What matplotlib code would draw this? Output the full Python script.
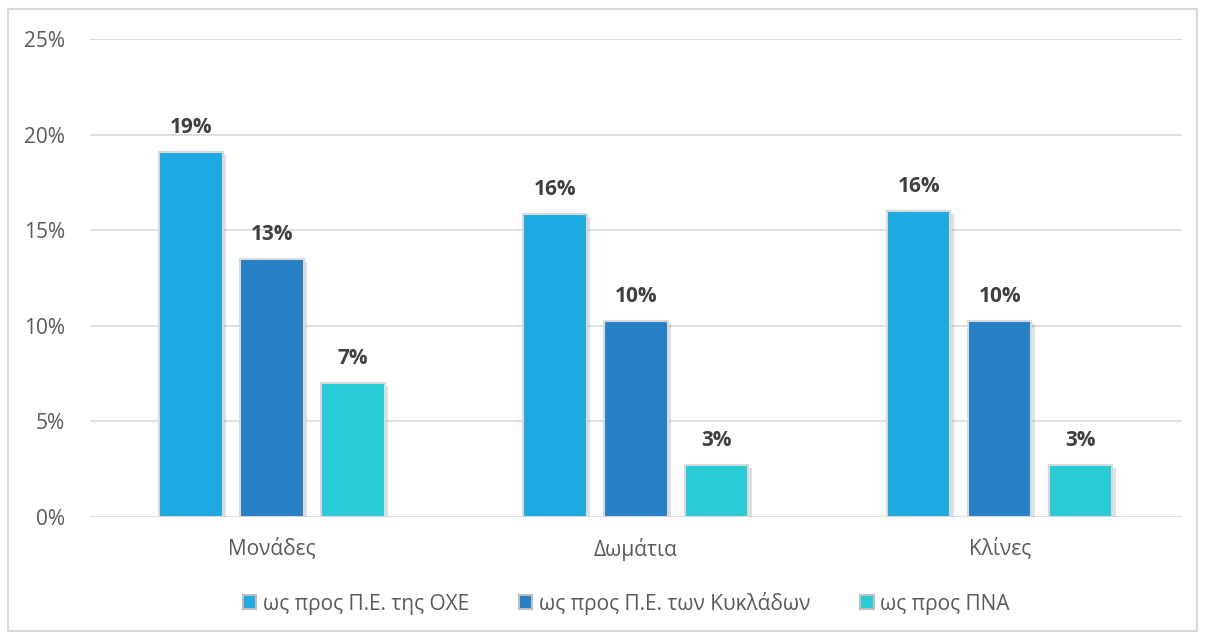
import matplotlib.pyplot as plt
import matplotlib.patheffects as pe
from matplotlib.patches import Rectangle
import numpy as np

plt.rcParams['font.family'] = ['Open Sans', 'DejaVu Sans']

categorias = ['Μονάδες', 'Δωμάτια', 'Κλίνες']
series = ['ως προς Π.Ε. της ΟΧΕ', 'ως προς Π.Ε. των Κυκλάδων', 'ως προς ΠΝΑ']
valores = [
    [19.1, 15.85, 16.0],
    [13.5, 10.25, 10.25],
    [7.0, 2.7, 2.7],
]
rotulos = [
    ['19%', '16%', '16%'],
    ['13%', '10%', '10%'],
    ['7%', '3%', '3%'],
]
cores = ['#1DAAE2', '#2680C5', '#27CCD6']
yticks = [0, 5, 10, 15, 20, 25]

fig = plt.figure(figsize=(12.07, 6.33), dpi=100)
ax = fig.add_axes([0.0746, 0.1833, 0.9044, 0.7551])

x = np.arange(len(categorias))
largura = 0.174
passo = 0.2225
sombra = [pe.SimplePatchShadow(offset=(2.5, -2), shadow_rgbFace='#999999', alpha=0.3), pe.Normal()]

for i, (serie, vals) in enumerate(zip(series, valores)):
    pos = x + (i - 1) * passo
    barras = ax.bar(pos, vals, largura, color=cores[i], edgecolor='#d9d9d9',
                    linewidth=1.5, label=serie, zorder=3)
    for b in barras:
        b.set_path_effects(sombra)
    for p, v, r in zip(pos, vals, rotulos[i]):
        ax.annotate(r, (p, v), xytext=(0, 10), textcoords='offset points',
                    ha='center', va='bottom', fontsize=15, fontweight='bold',
                    color='#404040', zorder=4)

ax.set_xlim(-0.5, 2.5)
ax.set_ylim(0, 25)
ax.set_yticks(yticks)
ax.set_yticklabels([f'{t}%' for t in yticks])
ax.set_xticks(x)
ax.set_xticklabels(categorias)
ax.grid(axis='y', color='#d9d9d9', linewidth=1.2, zorder=0)
ax.set_axisbelow(True)
for s in ax.spines.values():
    s.set_visible(False)
ax.tick_params(axis='both', length=0, labelsize=15, labelcolor='#595959')
ax.tick_params(axis='y', pad=18)
ax.tick_params(axis='x', pad=15)

leg = ax.legend(loc='center', bbox_to_anchor=(0.491, -0.18), ncol=3, frameon=False,
                fontsize=15, handlelength=0.65, handleheight=0.65, handletextpad=0.3,
                columnspacing=2.4, labelcolor='#595959')
for h in leg.legend_handles:
    h.set_path_effects([])
    h.set_edgecolor('#bfbfbf')

fig.patches.append(Rectangle((0.007, 0.003), 0.985, 0.982, transform=fig.transFigure,
                             fill=False, edgecolor='#d9d9d9', linewidth=1.5))

fig.savefig('out.png', dpi=100)
